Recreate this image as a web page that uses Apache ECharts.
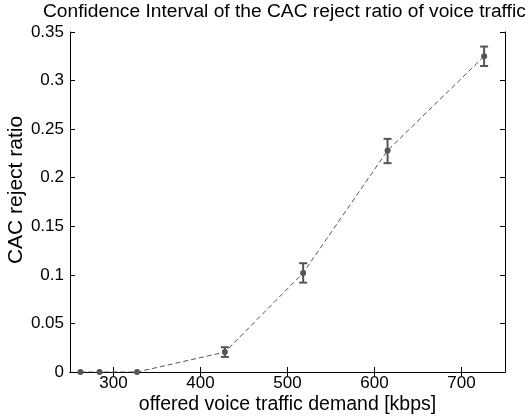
<!DOCTYPE html>
<html>
<head>
<meta charset="utf-8">
<script src="https://cdn.jsdelivr.net/npm/echarts@6/dist/echarts.min.js"></script>
<style>
  html, body { margin: 0; padding: 0; background: #fff; }
  #chart { width: 531px; height: 419px; }
</style>
</head>
<body>
<div id="chart"></div>
<script>
// offered load (kbps) and measured reject ratio with CI bounds
var demand = [262, 284, 327, 428, 518, 615, 726];
var rejectRatio = [0, 0, 0, 0.0205, 0.102, 0.228, 0.325];
var ciLow = [0, 0, 0, 0.0155, 0.092, 0.215, 0.315];
var ciHigh = [0, 0, 0, 0.0255, 0.112, 0.240, 0.335];
var xTicks = [300, 400, 500, 600, 700];

var font = 'Liberation Sans';
var grey = '#555555';

var points = demand.map(function (d, i) { return [d, rejectRatio[i]]; });
var bars = demand.map(function (d, i) { return [d, ciLow[i], ciHigh[i]]; });

var myChart = echarts.init(document.getElementById('chart'));
var option = {
    backgroundColor: '#ffffff',
    animation: false,
    title: {
        text: 'Confidence Interval of the CAC reject ratio of voice traffic',
        left: 43,
        top: 2,
        padding: 0,
        textStyle: { fontFamily: font, fontSize: 19.2, fontWeight: 'normal', color: '#000' }
    },
    grid: { left: 70, right: 26, top: 32, bottom: 47, outerBoundsMode: 'none', containLabel: false },
    xAxis: [{
        type: 'value',
        min: 250,
        max: 750,
        name: 'offered voice traffic demand [kbps]',
        nameLocation: 'middle',
        nameGap: 23,
        nameMoveOverlap: false,
        nameTextStyle: { fontFamily: font, fontSize: 19.5, color: '#000' },
        axisLine: { lineStyle: { color: '#000', width: 1 } },
        axisTick: { inside: true, length: 5, customValues: xTicks, lineStyle: { color: '#000' } },
        axisLabel: { customValues: xTicks, fontFamily: font, fontSize: 17, color: '#000', margin: 3 },
        splitLine: { show: false }
    }, {
        type: 'value',
        position: 'top',
        min: 250,
        max: 750,
        axisLine: { show: true, lineStyle: { color: '#000', width: 1 } },
        axisTick: { inside: true, length: 5, customValues: xTicks, lineStyle: { color: '#000' } },
        axisLabel: { show: false },
        splitLine: { show: false }
    }],
    yAxis: [{
        type: 'value',
        min: 0,
        max: 0.35,
        interval: 0.05,
        name: 'CAC reject ratio',
        nameLocation: 'middle',
        nameGap: 43,
        nameMoveOverlap: false,
        nameTextStyle: { fontFamily: font, fontSize: 21, color: '#000', padding: [0, 0, 0, 24] },
        axisLine: { show: true, lineStyle: { color: '#000', width: 1 } },
        axisTick: { show: true, inside: true, length: 5, lineStyle: { color: '#000' } },
        axisLabel: {
            fontFamily: font, fontSize: 17, color: '#000', margin: 6,
            formatter: function (v) { return String(+v.toFixed(2)); }
        },
        splitLine: { show: false }
    }, {
        type: 'value',
        position: 'right',
        min: 0,
        max: 0.35,
        interval: 0.05,
        axisLine: { show: true, lineStyle: { color: '#000', width: 1 } },
        axisTick: { show: true, inside: true, length: 5, lineStyle: { color: '#000' } },
        axisLabel: { show: false },
        splitLine: { show: false }
    }],
    series: [
        {
            name: 'reject ratio',
            type: 'line',
            data: points,
            symbol: 'circle',
            symbolSize: 6,
            itemStyle: { color: grey },
            lineStyle: { color: grey, width: 1, type: [5, 3] },
            z: 3
        },
        {
            name: 'CI',
            type: 'custom',
            data: bars,
            renderItem: function (params, api) {
                var lo = api.value(1), hi = api.value(2);
                if (hi === lo) return null;
                var top = api.coord([api.value(0), hi]);
                var bot = api.coord([api.value(0), lo]);
                var w = 4;
                var st = { stroke: grey, lineWidth: 2 };
                return {
                    type: 'group',
                    children: [
                        { type: 'line', shape: { x1: top[0], y1: top[1], x2: bot[0], y2: bot[1] }, style: st },
                        { type: 'line', shape: { x1: top[0] - w, y1: top[1], x2: top[0] + w, y2: top[1] }, style: st },
                        { type: 'line', shape: { x1: bot[0] - w, y1: bot[1], x2: bot[0] + w, y2: bot[1] }, style: st }
                    ]
                };
            },
            z: 4
        }
    ]
};
myChart.setOption(option);
</script>
</body>
</html>
